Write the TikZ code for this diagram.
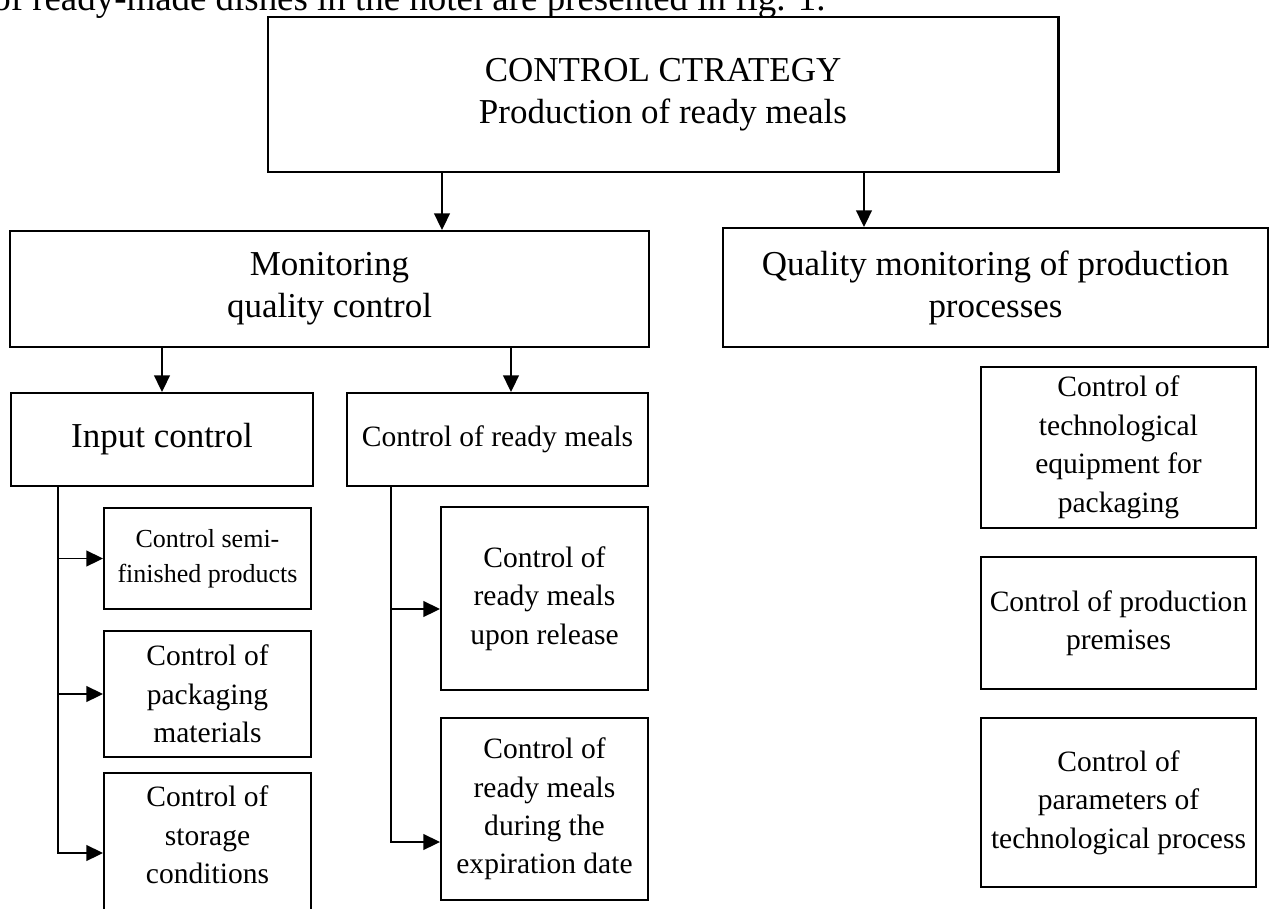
\documentclass[tikz,border=0pt]{standalone}
\usepackage{fontspec}
\setmainfont{Liberation Serif}
\usepackage{tikz}
\usetikzlibrary{positioning, arrows.meta, calc}

\begin{document}
\begin{tikzpicture}[
    boite/.style={draw=black, line width=1.1pt, align=center, inner sep=0pt},
    grand/.style={font=\fontsize{19.9}{23.9}\selectfont},
    moyen/.style={font=\fontsize{16.8}{21.9}\selectfont},
    petit/.style={font=\fontsize{14.8}{19.9}\selectfont},
    fleche/.style={-{Triangle[length=9.5pt, width=9pt]}, line width=0.9pt}
]
    \useasboundingbox (0,0) rectangle (25.42,-18.18);

    % Phrase coupée en haut
    \node[anchor=base west, inner sep=0pt, font=\fontsize{21}{25}\selectfont] (phrase) at (-0.16,-0.2) {of ready-made dishes in the hotel are presented in fig. 1.};

    % Stratégie
    \node[boite, grand, line width=1.7pt, minimum width=15.8cm, minimum height=3.1cm] (strat) at (13.26,-1.89) {CONTROL CTRATEGY\\Production of ready meals};

    % Deuxième niveau
    \node[boite, grand, minimum width=12.78cm, minimum height=2.32cm] (moni) at (6.59,-5.78) {Monitoring\\quality control};
    \node[boite, grand, minimum width=10.9cm, minimum height=2.38cm] (proc) at (19.91,-5.75) {Quality monitoring of production\\processes};

    % Troisième niveau
    \node[boite, grand, minimum width=6.04cm, minimum height=1.86cm] (entree) at (3.24,-8.79) {Input control};
    \node[boite, moyen, minimum width=6.02cm, minimum height=1.86cm] (pret) at (9.95,-8.79) {Control of ready meals};

    % Contrôle d'entrée
    \node[boite, petit, minimum width=4.14cm, minimum height=2.02cm] (semi) at (4.15,-11.17) {Control semi-\\finished products};
    \node[boite, moyen, minimum width=4.14cm, minimum height=2.52cm] (embal) at (4.15,-13.88) {Control of\\packaging\\materials};
    \node[boite, minimum width=4.14cm, minimum height=2.94cm,
          label={[moyen, align=center, yshift=0.23cm]center:Control of\\storage\\conditions}] (stock) at (4.15,-16.93) {};

    % Contrôle des plats prêts
    \node[boite, moyen, minimum width=4.14cm, minimum height=3.66cm] (sortie) at (10.89,-11.97) {Control of\\ready meals\\upon release};
    \node[boite, moyen, minimum width=4.14cm, minimum height=3.64cm] (expir) at (10.89,-16.18) {Control of\\ready meals\\during the\\expiration date};

    % Processus
    \node[boite, moyen, minimum width=5.5cm, minimum height=3.22cm] (equip) at (22.37,-8.95) {Control of\\technological\\equipment for\\packaging};
    \node[boite, moyen, minimum width=5.5cm, minimum height=2.64cm] (locaux) at (22.37,-12.46) {Control of production\\premises};
    \node[boite, moyen, minimum width=5.5cm, minimum height=3.38cm] (param) at (22.37,-16.05) {Control of\\parameters of\\technological process};

    % Flèches
    \coordinate (m1) at ([xshift=2.25cm]moni.north);
    \coordinate (p1) at ([xshift=-2.63cm]proc.north);
    \coordinate (r1) at ([xshift=0.27cm]pret.north);
    \draw[fleche] (strat.south -| m1) -- (m1);
    \draw[fleche] (strat.south -| p1) -- (p1);
    \draw[fleche] (moni.south -| entree.north) -- (entree.north);
    \draw[fleche] (moni.south -| r1) -- (r1);

    \coordinate (e0) at ([xshift=0.96cm]entree.south west);
    \draw[fleche] (e0) |- (semi.west);
    \draw[fleche] (e0) |- (embal.west);
    \draw[fleche] (e0) |- ([yshift=-0.13cm]stock.west);

    \coordinate (r0) at ([xshift=0.9cm]pret.south west);
    \draw[fleche] (r0) |- ([yshift=-0.21cm]sortie.west);
    \draw[fleche] (r0) |- ([yshift=-0.66cm]expir.west);
\end{tikzpicture}
\end{document}
